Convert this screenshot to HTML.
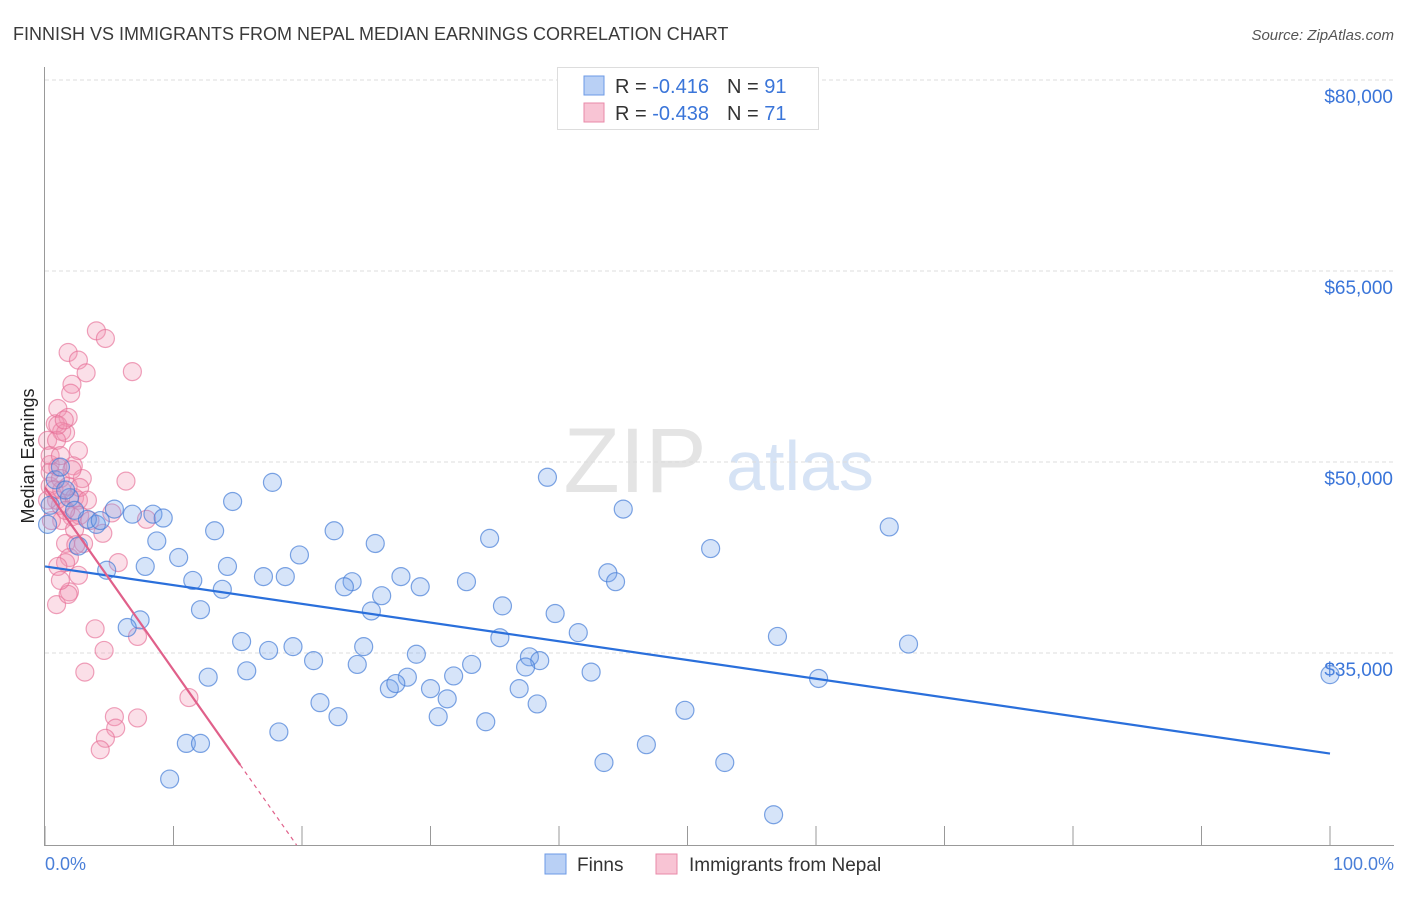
<!DOCTYPE html>
<html><head><meta charset="utf-8"><style>
body{margin:0;background:#fff;font-family:"Liberation Sans",sans-serif;}
svg text{font-family:"Liberation Sans",sans-serif;}
</style></head><body>
<svg id="chart" width="1406" height="892" viewBox="0 0 1406 892" xmlns="http://www.w3.org/2000/svg">
<text x="13" y="40" font-size="18" fill="#3a3a3a">FINNISH VS IMMIGRANTS FROM NEPAL MEDIAN EARNINGS CORRELATION CHART</text>
<text x="1394" y="40" font-size="15" fill="#555" font-style="italic" text-anchor="end">Source: ZipAtlas.com</text>
<g>
<text x="635" y="492" font-size="92" fill="#e4e4e4" font-family="Liberation Serif" text-anchor="middle">ZIP</text>
<text x="800" y="490" font-size="70" fill="#d6e3f5" text-anchor="middle">atlas</text>
</g>
<g id="grid"></g>
<line x1="44.5" y1="67" x2="44.5" y2="845" stroke="#999"/>
<line x1="44" y1="845.5" x2="1394" y2="845.5" stroke="#999"/>
<g id="xticks"></g>
<text transform="translate(34,456) rotate(-90)" font-size="18" fill="#222" text-anchor="middle">Median Earnings</text>
<text x="45" y="870" font-size="18" fill="#4a7fd8">0.0%</text>
<text x="1394" y="870" font-size="18" fill="#4a7fd8" text-anchor="end">100.0%</text>
<g id="pts"></g>
<g id="trends"></g>
<g>
<rect x="557.5" y="67.5" width="261" height="62" fill="#fff" stroke="#ddd"/>
<rect x="584" y="76" width="20" height="19" fill="#b9d0f5" stroke="#6c9ae6"/>
<rect x="584" y="103" width="20" height="19" fill="#f8c4d4" stroke="#e98aa8"/>
<text x="615" y="93" font-size="20" fill="#333">R = <tspan fill="#3a75d9">-0.416</tspan><tspan dx="18">N = </tspan><tspan fill="#3a75d9">91</tspan></text>
<text x="615" y="120" font-size="20" fill="#333">R = <tspan fill="#3a75d9">-0.438</tspan><tspan dx="18">N = </tspan><tspan fill="#3a75d9">71</tspan></text>
</g>
<g>
<rect x="545" y="854" width="21" height="20" fill="#b9d0f5" stroke="#6c9ae6"/>
<text x="577" y="871" font-size="19" fill="#333">Finns</text>
<rect x="656" y="854" width="21" height="20" fill="#f8c4d4" stroke="#e98aa8"/>
<text x="689" y="871" font-size="19" fill="#333">Immigrants from Nepal</text>
</g>
</svg>
<script>
const yTicks=[80000,65000,50000,35000];
const yTickLabels=["$80,000","$65,000","$50,000","$35,000"];
const xTickPct=[0,10,20,30,40,50,60,70,80,90,100];
const finnsX=[39.1,45.0,65.7,51.8,34.6,25.7,14.6,17.7,13.2,8.7,10.4,5.4,6.8,8.4,9.2,4.0,3.3,2.6,4.8,7.8,7.4,6.4,11.5,14.2,17.0,18.7,19.8,13.8,12.1,15.3,17.4,15.7,19.3,20.9,12.7,22.5,23.9,23.3,26.2,25.4,27.7,29.2,32.8,35.6,39.7,41.5,43.8,44.4,35.4,37.7,38.5,37.4,42.5,36.9,38.3,31.8,33.2,28.9,28.2,26.8,27.3,30.0,31.3,30.6,34.3,24.8,24.3,21.4,22.8,18.2,11.0,12.1,9.7,43.5,46.8,49.8,52.9,57.0,60.2,67.2,56.7,100,0.4,0.8,1.2,1.9,2.3,1.6,0.2,4.3];
const finnsY=[48.8,46.3,44.9,43.2,44.0,43.6,46.9,48.4,44.6,43.8,42.5,46.3,45.9,45.9,45.6,45.1,45.5,43.4,41.5,41.8,37.6,37.0,40.7,41.8,41.0,41.0,42.7,40.0,38.4,35.9,35.2,33.6,35.5,34.4,33.1,44.6,40.6,40.2,39.5,38.3,41.0,40.2,40.6,38.7,38.1,36.6,41.3,40.6,36.2,34.7,34.4,33.9,33.5,32.2,31.0,33.2,34.1,34.9,33.1,32.2,32.6,32.2,31.4,30.0,29.6,35.5,34.1,31.1,30.0,28.8,27.9,27.9,25.1,26.4,27.8,30.5,26.4,36.3,33.0,35.7,22.3,33.3,46.6,48.6,49.6,47.2,46.2,47.8,45.1,45.4];
const nepalX=[4.0,4.7,1.8,2.6,3.2,2.1,2.0,6.8,1.0,1.8,0.8,1.3,1.6,0.2,2.6,0.4,1.0,2.2,2.9,6.3,0.4,1.3,2.3,1.2,2.6,2.1,2.7,5.2,7.9,4.5,1.6,3.0,1.9,1.6,1.0,2.6,5.7,1.9,0.9,3.9,7.2,4.6,3.1,11.2,5.4,5.5,4.7,4.3,7.2,0.4,0.9,3.5,1.3,1.6,0.4,1.2,0.9,0.5,2.3,2.4,1.8,1.2,1.0,1.5,0.2,0.7,1.2,1.8,2.1,2.7,3.3];
const nepalY=[60.3,59.7,58.6,58.0,57.0,56.1,55.4,57.1,54.2,53.5,53.0,52.4,52.3,51.7,50.9,49.8,49.6,49.7,48.7,48.5,48.1,47.8,47.2,46.6,47.0,45.7,45.8,46.0,45.5,44.4,43.6,43.6,42.5,42.1,41.8,41.1,42.1,39.8,38.8,36.9,36.3,35.2,33.5,31.5,30.0,29.1,28.3,27.4,29.9,50.5,47.0,45.4,45.4,46.2,49.2,48.7,51.7,45.4,44.7,43.5,39.6,40.7,52.9,53.3,47.0,47.8,50.5,48.1,49.4,48.0,47.0];
const finnsTrend=[41.8,27.1];          // value (k$) at x=0% and x=100%
const nepalTrend=[48.0,26.2,15.2];     // value at 0%, value at solid end, solid end %
const NS='http://www.w3.org/2000/svg';
function xs(p){return 45+p*12.85;}
function ys(v){return 80+(80000-v)*191/15000;}
function yk(k){return ys(k*1000);}
function mk(t,a,p){const e=document.createElementNS(NS,t);for(const k in a)e.setAttribute(k,a[k]);p.appendChild(e);return e;}
const grid=document.getElementById('grid');
yTicks.forEach((v,i)=>{
 const l=mk('line',{x1:45,x2:1394,y1:ys(v),y2:ys(v),stroke:'#ddd','stroke-dasharray':'4,3'},grid);
 
 
 const t=mk('text',{x:1393,y:ys(v)+23,'font-size':19,fill:'#3a75d9','text-anchor':'end'},grid);
 t.textContent=yTickLabels[i];
 
 
});
const xt=document.getElementById('xticks');
xTickPct.forEach(p=>{
 const l=mk('line',{x1:xs(p),x2:xs(p),y1:826,y2:845,stroke:'#999'},xt);
 
 
});
const pts=document.getElementById('pts');
nepalX.forEach((x,i)=>{
 const c=mk('circle',{cx:xs(x),cy:yk(nepalY[i]),r:9,fill:'rgba(243,150,180,0.3)',stroke:'rgba(230,110,150,0.65)','stroke-width':1.2},pts);
 
 
});
finnsX.forEach((x,i)=>{
 const c=mk('circle',{cx:xs(x),cy:yk(finnsY[i]),r:9,fill:'rgba(120,165,235,0.3)',stroke:'rgba(70,125,215,0.7)','stroke-width':1.2},pts);
 
 
});
const tr=document.getElementById('trends');
const b=mk('line',{x1:xs(0),y1:yk(finnsTrend[0]),x2:xs(100),y2:yk(finnsTrend[1]),stroke:'#2a6fdb','stroke-width':2.2},tr);


const slope=(nepalTrend[1]-nepalTrend[0])/nepalTrend[2];
const p1=mk('line',{x1:xs(0),y1:yk(nepalTrend[0]),x2:xs(nepalTrend[2]),y2:yk(nepalTrend[1]),stroke:'#e0608a','stroke-width':2.2},tr);


const endPct=(nepalTrend[0]-(80-765/12.733+80/12.733))/(-slope);
const botK=80-(845-80)*15/191;
const ep=(botK-nepalTrend[0])/slope;
const p2=mk('line',{x1:xs(nepalTrend[2]),y1:yk(nepalTrend[1]),x2:xs(ep),y2:yk(botK),stroke:'#e0608a','stroke-width':1.2,'stroke-dasharray':'4,4'},tr);


</script>
</body></html>
